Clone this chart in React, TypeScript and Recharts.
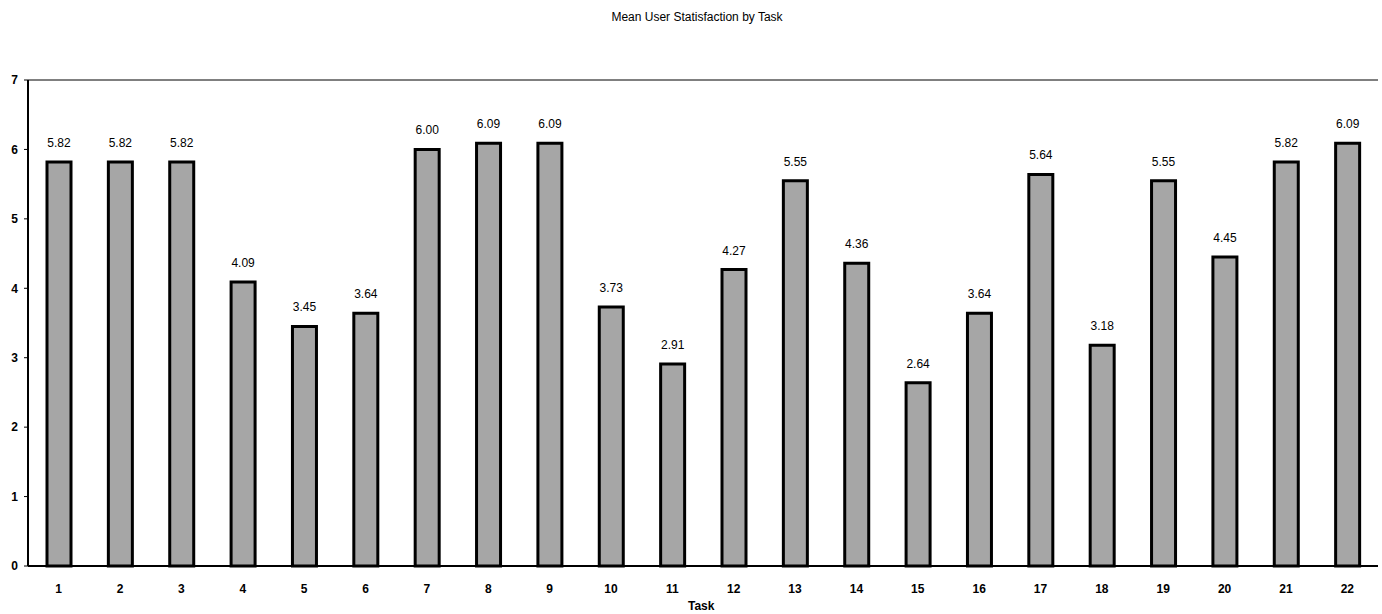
import React from "react";
import {
  Bar,
  BarChart,
  CartesianGrid,
  LabelList,
  XAxis,
  YAxis,
} from "recharts";

const tasks = [
  "1", "2", "3", "4", "5", "6", "7", "8", "9", "10", "11",
  "12", "13", "14", "15", "16", "17", "18", "19", "20", "21", "22",
];

const satisfaction = [
  5.82, 5.82, 5.82, 4.09, 3.45, 3.64, 6.0, 6.09, 6.09, 3.73, 2.91,
  4.27, 5.55, 4.36, 2.64, 3.64, 5.64, 3.18, 5.55, 4.45, 5.82, 6.09,
];

const yTicks = [0, 1, 2, 3, 4, 5, 6, 7];

const data = tasks.map((task, i) => ({ task, value: satisfaction[i] }));

const font = "'Liberation Sans', Arial, sans-serif";

const App = () => {
  return (
    <div
      style={{
        position: "absolute",
        left: 0,
        top: 0,
        width: 1382,
        height: 614,
        background: "#fff",
        fontFamily: font,
      }}
    >
      <div
        style={{
          position: "absolute",
          top: 10,
          left: 0,
          width: 1394,
          textAlign: "center",
          fontSize: 12,
          color: "#000",
        }}
      >
        Mean User Statisfaction by Task
      </div>
      <BarChart
        width={1382}
        height={614}
        data={data}
        margin={{ top: 80, right: 4, bottom: 18, left: 0 }}
        barCategoryGap="0%"
      >
        <CartesianGrid vertical={false} stroke="#000" strokeWidth={1} />
        <XAxis
          dataKey="task"
          tickLine={false}
          axisLine={{ stroke: "#000", strokeWidth: 2 }}
          tickMargin={12}
          height={30}
          tick={{ fill: "#000", fontSize: 12, fontWeight: 700, fontFamily: font }}
          interval={0}
        />
        <YAxis
          yAxisId="left"
          domain={[0, 7]}
          ticks={yTicks}
          width={28}
          tickSize={4}
          tickMargin={6}
          tickLine={{ stroke: "#000" }}
          axisLine={{ stroke: "#000", strokeWidth: 2 }}
          tick={{ fill: "#000", fontSize: 12, fontWeight: 700, fontFamily: font }}
        />
        <YAxis
          yAxisId="right"
          orientation="right"
          domain={[0, 7]}
          ticks={yTicks}
          width={0}
          tick={false}
          tickLine={false}
          axisLine={{ stroke: "#000", strokeWidth: 1 }}
        />
        <Bar
          yAxisId="left"
          dataKey="value"
          barSize={24}
          fill="#a6a6a6"
          stroke="#000"
          strokeWidth={3}
          isAnimationActive={false}
        >
          <LabelList
            dataKey="value"
            position="top"
            offset={15}
            formatter={(v: number) => v.toFixed(2)}
            style={{ fill: "#000", fontSize: 12, fontFamily: font }}
          />
        </Bar>
      </BarChart>
      <div
        style={{
          position: "absolute",
          top: 599,
          left: 688,
          fontSize: 12,
          fontWeight: 700,
          color: "#000",
        }}
      >
        Task
      </div>
    </div>
  );
};

export default App;
